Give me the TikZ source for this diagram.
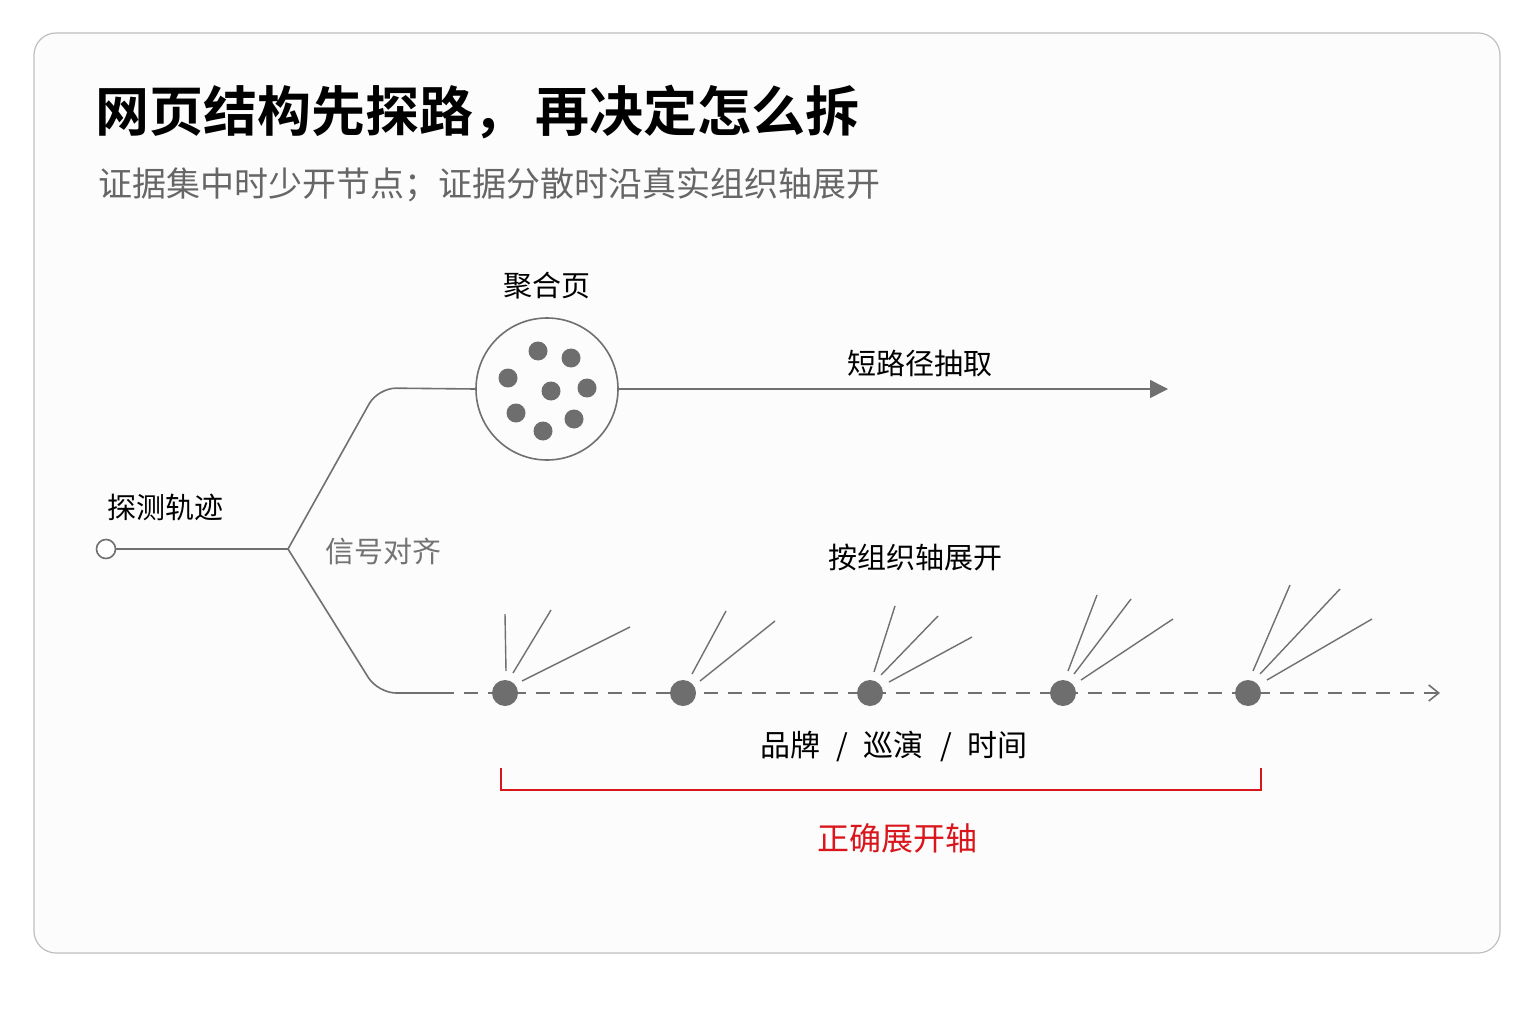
\documentclass[tikz,border=0pt]{standalone}
\usepackage{fontspec}
\setmainfont{Noto Sans CJK SC}
\newfontfamily\cjkb{Noto Sans CJK SC Bold}
\usetikzlibrary{arrows.meta}
\definecolor{ln}{HTML}{707070}
\definecolor{dt}{HTML}{6E6E6E}
\definecolor{rd}{HTML}{D9161C}
\begin{document}
\begin{tikzpicture}[x=1pt,y=-1pt,
  lbl/.style={font=\fontsize{29}{29}\selectfont, text=black},
  wire/.style={draw=ln, line width=1.6pt},
  dot/.style={circle, fill=dt, minimum size=26pt, inner sep=0pt},
  sdot/.style={circle, fill=dt, minimum size=19pt, inner sep=0pt},
  fan/.style={draw=ln, line width=1.4pt}]
\useasboundingbox (0,0) rectangle (1536,1024);
\fill[white] (0,0) rectangle (1536,1024);
\draw[draw=black!25, line width=1.2pt, rounded corners=22pt, fill=black!1] (34,33) rectangle (1500,953);
\node[anchor=west, font=\cjkb\fontsize{54}{54}\selectfont] (title) at (92,112) {网页结构先探路，\hspace{8pt}再决定怎么拆};
\node[anchor=west, font=\fontsize{34}{34}\selectfont, text=black!60] (sub) at (95,185) {证据集中时少开节点；证据分散时沿真实组织轴展开};
% start
\node[circle, draw=ln, line width=1.6pt, minimum size=19pt, inner sep=0pt, fill=white] (s) at (106,549) {};
\coordinate (fork) at (288,549);
\draw[wire] (s) -- (fork);
\node[lbl] (tl) at (165,507) {探测轨迹};
\node[lbl, text=black!55] (sig) at (383,551) {信号对齐};
% upper
\node[circle, draw=ln, line width=1.6pt, minimum size=142pt, inner sep=0pt] (agg) at (547,389) {};
\draw[wire, rounded corners=18pt] (fork) -- (378,388) -- (agg.west);
\foreach \p in {(538,351),(571,358),(508,378),(551,391),(587,388),(516,413),(574,419),(543,431)}
  \node[sdot] at \p {};
\node[lbl] (aggl) at (547,286) {聚合页};
\coordinate (ue) at (1168,389);
\draw[wire, -{Triangle[length=18pt,width=18pt]}] (agg.east) -- (ue);
\node[lbl] (sp) at (920,363) {短路径抽取};
% lower
\coordinate (lb) at (440,693);
\draw[wire, rounded corners=18pt] (fork) -- (378,693) -- (lb);
\coordinate (le) at (1440,693);
\draw[wire, dash pattern=on 14pt off 10pt, -{Straight Barb[length=10pt,width=16pt]}] (lb) -- (le);
\node[dot] (d1) at (505,693) {};
\node[dot] (d2) at (683,693) {};
\node[dot] (d3) at (870,693) {};
\node[dot] (d4) at (1063,693) {};
\node[dot] (d5) at (1248,693) {};
\draw[fan] (506,671) -- (505,614) (513,673) -- (551,610) (522,681) -- (630,627);
\draw[fan] (692,674) -- (726,611) (700,681) -- (775,621);
\draw[fan] (874,672) -- (895,606) (881,675) -- (938,616) (889,682) -- (972,637);
\draw[fan] (1068,671) -- (1097,595) (1074,674) -- (1131,599) (1081,680) -- (1173,619);
\draw[fan] (1253,671) -- (1290,585) (1260,674) -- (1340,589) (1267,680) -- (1372,619);
\node[lbl] (ax) at (915,557) {按组织轴展开};
\node[lbl, font=\fontsize{30}{30}\selectfont] (pb) at (894,747) {品牌\hspace{16pt}/\hspace{16pt}巡演\hspace{16pt}/\hspace{16pt}时间};
\draw[draw=rd, line width=1.8pt] (501,768) -- (501,790) -- (1261,790) -- (1261,768);
\node[text=rd, font=\fontsize{32}{32}\selectfont] (ok) at (897,838) {正确展开轴};
\end{tikzpicture}
\end{document}
